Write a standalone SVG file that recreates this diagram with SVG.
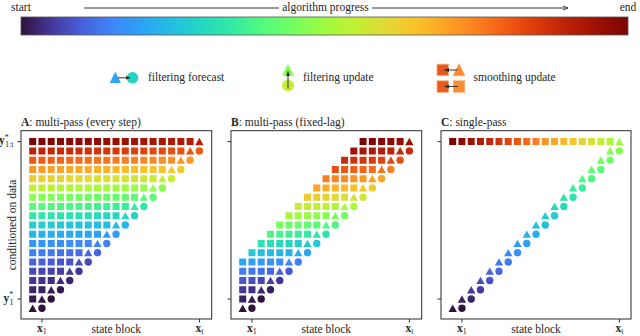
<svg xmlns="http://www.w3.org/2000/svg" xmlns:xlink="http://www.w3.org/1999/xlink" width="640" height="336" viewBox="0 0 640 336">
<style>
text{font-family:"Liberation Serif","Times New Roman",serif;font-size:11.5px;fill:#262626}
.b{font-weight:bold}
.s{font-size:8px;font-weight:normal}
.fr{fill:none;stroke:#2b2b2b;stroke-width:1}
.tk{fill:none;stroke:#2b2b2b;stroke-width:1}
.ar{fill:none;stroke:#333;stroke-width:1}
</style>
<defs>
<linearGradient id="turbo" gradientUnits="userSpaceOnUse" x1="0" y1="0" x2="1" y2="0">
<stop offset="0" stop-color="#30123b"/><stop offset="0.05" stop-color="#45379a"/><stop offset="0.1" stop-color="#4760da"/><stop offset="0.15" stop-color="#3f85f8"/><stop offset="0.2" stop-color="#2ca3f4"/><stop offset="0.25" stop-color="#24bfe0"/><stop offset="0.3" stop-color="#25d8c0"/><stop offset="0.35" stop-color="#35eba2"/><stop offset="0.4" stop-color="#55fa7c"/><stop offset="0.45" stop-color="#74fe60"/><stop offset="0.5" stop-color="#a0fb40"/><stop offset="0.55" stop-color="#c1f034"/><stop offset="0.6" stop-color="#e0da37"/><stop offset="0.65" stop-color="#f9c229"/><stop offset="0.7" stop-color="#fba326"/><stop offset="0.75" stop-color="#fb8022"/><stop offset="0.8" stop-color="#f05b12"/><stop offset="0.85" stop-color="#d93a0a"/><stop offset="0.9" stop-color="#ba2107"/><stop offset="0.95" stop-color="#9b1002"/><stop offset="1" stop-color="#7a0403"/>
</linearGradient>
<linearGradient id="cb" xlink:href="#turbo" x1="21" x2="628"/>
<linearGradient id="gA0" xlink:href="#turbo" x1="0" x2="-1750.14"/>
<linearGradient id="gA1" xlink:href="#turbo" x1="18.52" x2="-1731.62"/>
<linearGradient id="gA2" xlink:href="#turbo" x1="46.3" x2="-1703.84"/>
<linearGradient id="gA3" xlink:href="#turbo" x1="83.34" x2="-1666.8"/>
<linearGradient id="gA4" xlink:href="#turbo" x1="129.64" x2="-1620.5"/>
<linearGradient id="gA5" xlink:href="#turbo" x1="185.2" x2="-1564.94"/>
<linearGradient id="gA6" xlink:href="#turbo" x1="250.02" x2="-1500.12"/>
<linearGradient id="gA7" xlink:href="#turbo" x1="324.1" x2="-1426.04"/>
<linearGradient id="gA8" xlink:href="#turbo" x1="407.44" x2="-1342.7"/>
<linearGradient id="gA9" xlink:href="#turbo" x1="500.04" x2="-1250.1"/>
<linearGradient id="gA10" xlink:href="#turbo" x1="601.9" x2="-1148.24"/>
<linearGradient id="gA11" xlink:href="#turbo" x1="713.02" x2="-1037.12"/>
<linearGradient id="gA12" xlink:href="#turbo" x1="833.4" x2="-916.74"/>
<linearGradient id="gA13" xlink:href="#turbo" x1="963.04" x2="-787.1"/>
<linearGradient id="gA14" xlink:href="#turbo" x1="1101.94" x2="-648.2"/>
<linearGradient id="gA15" xlink:href="#turbo" x1="1250.1" x2="-500.04"/>
<linearGradient id="gA16" xlink:href="#turbo" x1="1407.52" x2="-342.62"/>
<linearGradient id="gA17" xlink:href="#turbo" x1="1574.2" x2="-175.94"/>
<linearGradient id="gA18" xlink:href="#turbo" x1="1750.14" x2="0"/>
<linearGradient id="gB0" xlink:href="#turbo" x1="0" x2="-907.48"/>
<linearGradient id="gB1" xlink:href="#turbo" x1="18.52" x2="-888.96"/>
<linearGradient id="gB2" xlink:href="#turbo" x1="46.3" x2="-861.18"/>
<linearGradient id="gB3" xlink:href="#turbo" x1="83.34" x2="-824.14"/>
<linearGradient id="gB4" xlink:href="#turbo" x1="129.64" x2="-777.84"/>
<linearGradient id="gB5" xlink:href="#turbo" x1="185.2" x2="-722.28"/>
<linearGradient id="gB6" xlink:href="#turbo" x1="240.76" x2="-666.72"/>
<linearGradient id="gB7" xlink:href="#turbo" x1="296.32" x2="-611.16"/>
<linearGradient id="gB8" xlink:href="#turbo" x1="351.88" x2="-555.6"/>
<linearGradient id="gB9" xlink:href="#turbo" x1="407.44" x2="-500.04"/>
<linearGradient id="gB10" xlink:href="#turbo" x1="463" x2="-444.48"/>
<linearGradient id="gB11" xlink:href="#turbo" x1="518.56" x2="-388.92"/>
<linearGradient id="gB12" xlink:href="#turbo" x1="574.12" x2="-333.36"/>
<linearGradient id="gB13" xlink:href="#turbo" x1="629.68" x2="-277.8"/>
<linearGradient id="gB14" xlink:href="#turbo" x1="685.24" x2="-222.24"/>
<linearGradient id="gB15" xlink:href="#turbo" x1="740.8" x2="-166.68"/>
<linearGradient id="gB16" xlink:href="#turbo" x1="796.36" x2="-111.12"/>
<linearGradient id="gB17" xlink:href="#turbo" x1="851.92" x2="-55.56"/>
<linearGradient id="gB18" xlink:href="#turbo" x1="907.48" x2="0"/>
<linearGradient id="gCt" xlink:href="#turbo" x1="333.36" x2="0"/>
<linearGradient id="gCd" xlink:href="#turbo" x1="0" y1="0" x2="0" y2="-333.36"/>
<marker id="ah" viewBox="0 0 10 10" refX="9" refY="5" markerWidth="5" markerHeight="5" markerUnits="userSpaceOnUse" orient="auto"><path d="M0,1L10,5L0,9z" fill="#333"/></marker>
<marker id="oh" viewBox="0 0 10 10" refX="9.5" refY="5" markerWidth="6" markerHeight="6" markerUnits="userSpaceOnUse" orient="auto"><path d="M1,1.5L9.5,5L1,8.5" fill="none" stroke="#333" stroke-width="1.4"/></marker>
<path id="p0" d="M0,-3.8l4.2,7.4h-8.4zm5.56,3.8a3.7,3.7 0 1 0 7.4,0a3.7,3.7 0 1 0 -7.4,0z"/>
<path id="p1" d="M-3.5,-3.5h7v7h-7zm12.76,-0.3l4.2,7.4h-8.4zm5.56,3.8a3.7,3.7 0 1 0 7.4,0a3.7,3.7 0 1 0 -7.4,0z"/>
<path id="p2" d="M-3.5,-3.5h7v7h-7zm9.26,0h7v7h-7zm12.76,-0.3l4.2,7.4h-8.4zm5.56,3.8a3.7,3.7 0 1 0 7.4,0a3.7,3.7 0 1 0 -7.4,0z"/>
<path id="p3" d="M-3.5,-3.5h7v7h-7zm9.26,0h7v7h-7zm9.26,0h7v7h-7zm12.76,-0.3l4.2,7.4h-8.4zm5.56,3.8a3.7,3.7 0 1 0 7.4,0a3.7,3.7 0 1 0 -7.4,0z"/>
<path id="p4" d="M-3.5,-3.5h7v7h-7zm9.26,0h7v7h-7zm9.26,0h7v7h-7zm9.26,0h7v7h-7zm12.76,-0.3l4.2,7.4h-8.4zm5.56,3.8a3.7,3.7 0 1 0 7.4,0a3.7,3.7 0 1 0 -7.4,0z"/>
<path id="p5" d="M-3.5,-3.5h7v7h-7zm9.26,0h7v7h-7zm9.26,0h7v7h-7zm9.26,0h7v7h-7zm9.26,0h7v7h-7zm12.76,-0.3l4.2,7.4h-8.4zm5.56,3.8a3.7,3.7 0 1 0 7.4,0a3.7,3.7 0 1 0 -7.4,0z"/>
<path id="p5n" d="M-3.5,-3.5h7v7h-7zm9.26,0h7v7h-7zm9.26,0h7v7h-7zm9.26,0h7v7h-7zm9.26,0h7v7h-7zm12.76,-0.3l4.2,7.4h-8.4z"/>
<path id="p6" d="M-3.5,-3.5h7v7h-7zm9.26,0h7v7h-7zm9.26,0h7v7h-7zm9.26,0h7v7h-7zm9.26,0h7v7h-7zm9.26,0h7v7h-7zm12.76,-0.3l4.2,7.4h-8.4zm5.56,3.8a3.7,3.7 0 1 0 7.4,0a3.7,3.7 0 1 0 -7.4,0z"/>
<path id="p7" d="M-3.5,-3.5h7v7h-7zm9.26,0h7v7h-7zm9.26,0h7v7h-7zm9.26,0h7v7h-7zm9.26,0h7v7h-7zm9.26,0h7v7h-7zm9.26,0h7v7h-7zm12.76,-0.3l4.2,7.4h-8.4zm5.56,3.8a3.7,3.7 0 1 0 7.4,0a3.7,3.7 0 1 0 -7.4,0z"/>
<path id="p8" d="M-3.5,-3.5h7v7h-7zm9.26,0h7v7h-7zm9.26,0h7v7h-7zm9.26,0h7v7h-7zm9.26,0h7v7h-7zm9.26,0h7v7h-7zm9.26,0h7v7h-7zm9.26,0h7v7h-7zm12.76,-0.3l4.2,7.4h-8.4zm5.56,3.8a3.7,3.7 0 1 0 7.4,0a3.7,3.7 0 1 0 -7.4,0z"/>
<path id="p9" d="M-3.5,-3.5h7v7h-7zm9.26,0h7v7h-7zm9.26,0h7v7h-7zm9.26,0h7v7h-7zm9.26,0h7v7h-7zm9.26,0h7v7h-7zm9.26,0h7v7h-7zm9.26,0h7v7h-7zm9.26,0h7v7h-7zm12.76,-0.3l4.2,7.4h-8.4zm5.56,3.8a3.7,3.7 0 1 0 7.4,0a3.7,3.7 0 1 0 -7.4,0z"/>
<path id="p10" d="M-3.5,-3.5h7v7h-7zm9.26,0h7v7h-7zm9.26,0h7v7h-7zm9.26,0h7v7h-7zm9.26,0h7v7h-7zm9.26,0h7v7h-7zm9.26,0h7v7h-7zm9.26,0h7v7h-7zm9.26,0h7v7h-7zm9.26,0h7v7h-7zm12.76,-0.3l4.2,7.4h-8.4zm5.56,3.8a3.7,3.7 0 1 0 7.4,0a3.7,3.7 0 1 0 -7.4,0z"/>
<path id="p11" d="M-3.5,-3.5h7v7h-7zm9.26,0h7v7h-7zm9.26,0h7v7h-7zm9.26,0h7v7h-7zm9.26,0h7v7h-7zm9.26,0h7v7h-7zm9.26,0h7v7h-7zm9.26,0h7v7h-7zm9.26,0h7v7h-7zm9.26,0h7v7h-7zm9.26,0h7v7h-7zm12.76,-0.3l4.2,7.4h-8.4zm5.56,3.8a3.7,3.7 0 1 0 7.4,0a3.7,3.7 0 1 0 -7.4,0z"/>
<path id="p12" d="M-3.5,-3.5h7v7h-7zm9.26,0h7v7h-7zm9.26,0h7v7h-7zm9.26,0h7v7h-7zm9.26,0h7v7h-7zm9.26,0h7v7h-7zm9.26,0h7v7h-7zm9.26,0h7v7h-7zm9.26,0h7v7h-7zm9.26,0h7v7h-7zm9.26,0h7v7h-7zm9.26,0h7v7h-7zm12.76,-0.3l4.2,7.4h-8.4zm5.56,3.8a3.7,3.7 0 1 0 7.4,0a3.7,3.7 0 1 0 -7.4,0z"/>
<path id="p13" d="M-3.5,-3.5h7v7h-7zm9.26,0h7v7h-7zm9.26,0h7v7h-7zm9.26,0h7v7h-7zm9.26,0h7v7h-7zm9.26,0h7v7h-7zm9.26,0h7v7h-7zm9.26,0h7v7h-7zm9.26,0h7v7h-7zm9.26,0h7v7h-7zm9.26,0h7v7h-7zm9.26,0h7v7h-7zm9.26,0h7v7h-7zm12.76,-0.3l4.2,7.4h-8.4zm5.56,3.8a3.7,3.7 0 1 0 7.4,0a3.7,3.7 0 1 0 -7.4,0z"/>
<path id="p14" d="M-3.5,-3.5h7v7h-7zm9.26,0h7v7h-7zm9.26,0h7v7h-7zm9.26,0h7v7h-7zm9.26,0h7v7h-7zm9.26,0h7v7h-7zm9.26,0h7v7h-7zm9.26,0h7v7h-7zm9.26,0h7v7h-7zm9.26,0h7v7h-7zm9.26,0h7v7h-7zm9.26,0h7v7h-7zm9.26,0h7v7h-7zm9.26,0h7v7h-7zm12.76,-0.3l4.2,7.4h-8.4zm5.56,3.8a3.7,3.7 0 1 0 7.4,0a3.7,3.7 0 1 0 -7.4,0z"/>
<path id="p15" d="M-3.5,-3.5h7v7h-7zm9.26,0h7v7h-7zm9.26,0h7v7h-7zm9.26,0h7v7h-7zm9.26,0h7v7h-7zm9.26,0h7v7h-7zm9.26,0h7v7h-7zm9.26,0h7v7h-7zm9.26,0h7v7h-7zm9.26,0h7v7h-7zm9.26,0h7v7h-7zm9.26,0h7v7h-7zm9.26,0h7v7h-7zm9.26,0h7v7h-7zm9.26,0h7v7h-7zm12.76,-0.3l4.2,7.4h-8.4zm5.56,3.8a3.7,3.7 0 1 0 7.4,0a3.7,3.7 0 1 0 -7.4,0z"/>
<path id="p16" d="M-3.5,-3.5h7v7h-7zm9.26,0h7v7h-7zm9.26,0h7v7h-7zm9.26,0h7v7h-7zm9.26,0h7v7h-7zm9.26,0h7v7h-7zm9.26,0h7v7h-7zm9.26,0h7v7h-7zm9.26,0h7v7h-7zm9.26,0h7v7h-7zm9.26,0h7v7h-7zm9.26,0h7v7h-7zm9.26,0h7v7h-7zm9.26,0h7v7h-7zm9.26,0h7v7h-7zm9.26,0h7v7h-7zm12.76,-0.3l4.2,7.4h-8.4zm5.56,3.8a3.7,3.7 0 1 0 7.4,0a3.7,3.7 0 1 0 -7.4,0z"/>
<path id="p17" d="M-3.5,-3.5h7v7h-7zm9.26,0h7v7h-7zm9.26,0h7v7h-7zm9.26,0h7v7h-7zm9.26,0h7v7h-7zm9.26,0h7v7h-7zm9.26,0h7v7h-7zm9.26,0h7v7h-7zm9.26,0h7v7h-7zm9.26,0h7v7h-7zm9.26,0h7v7h-7zm9.26,0h7v7h-7zm9.26,0h7v7h-7zm9.26,0h7v7h-7zm9.26,0h7v7h-7zm9.26,0h7v7h-7zm9.26,0h7v7h-7zm12.76,-0.3l4.2,7.4h-8.4zm5.56,3.8a3.7,3.7 0 1 0 7.4,0a3.7,3.7 0 1 0 -7.4,0z"/>
<path id="p18" d="M-3.5,-3.5h7v7h-7zm9.26,0h7v7h-7zm9.26,0h7v7h-7zm9.26,0h7v7h-7zm9.26,0h7v7h-7zm9.26,0h7v7h-7zm9.26,0h7v7h-7zm9.26,0h7v7h-7zm9.26,0h7v7h-7zm9.26,0h7v7h-7zm9.26,0h7v7h-7zm9.26,0h7v7h-7zm9.26,0h7v7h-7zm9.26,0h7v7h-7zm9.26,0h7v7h-7zm9.26,0h7v7h-7zm9.26,0h7v7h-7zm9.26,0h7v7h-7zm12.76,-0.3l4.2,7.4h-8.4z"/>
<path id="cd" d="M0,-3.8l4.2,7.4h-8.4zm5.56,3.8a3.7,3.7 0 1 0 7.4,0a3.7,3.7 0 1 0 -7.4,0zm3.7,-13.06l4.2,7.4h-8.4zm5.56,3.8a3.7,3.7 0 1 0 7.4,0a3.7,3.7 0 1 0 -7.4,0zm3.7,-13.06l4.2,7.4h-8.4zm5.56,3.8a3.7,3.7 0 1 0 7.4,0a3.7,3.7 0 1 0 -7.4,0zm3.7,-13.06l4.2,7.4h-8.4zm5.56,3.8a3.7,3.7 0 1 0 7.4,0a3.7,3.7 0 1 0 -7.4,0zm3.7,-13.06l4.2,7.4h-8.4zm5.56,3.8a3.7,3.7 0 1 0 7.4,0a3.7,3.7 0 1 0 -7.4,0zm3.7,-13.06l4.2,7.4h-8.4zm5.56,3.8a3.7,3.7 0 1 0 7.4,0a3.7,3.7 0 1 0 -7.4,0zm3.7,-13.06l4.2,7.4h-8.4zm5.56,3.8a3.7,3.7 0 1 0 7.4,0a3.7,3.7 0 1 0 -7.4,0zm3.7,-13.06l4.2,7.4h-8.4zm5.56,3.8a3.7,3.7 0 1 0 7.4,0a3.7,3.7 0 1 0 -7.4,0zm3.7,-13.06l4.2,7.4h-8.4zm5.56,3.8a3.7,3.7 0 1 0 7.4,0a3.7,3.7 0 1 0 -7.4,0zm3.7,-13.06l4.2,7.4h-8.4zm5.56,3.8a3.7,3.7 0 1 0 7.4,0a3.7,3.7 0 1 0 -7.4,0zm3.7,-13.06l4.2,7.4h-8.4zm5.56,3.8a3.7,3.7 0 1 0 7.4,0a3.7,3.7 0 1 0 -7.4,0zm3.7,-13.06l4.2,7.4h-8.4zm5.56,3.8a3.7,3.7 0 1 0 7.4,0a3.7,3.7 0 1 0 -7.4,0zm3.7,-13.06l4.2,7.4h-8.4zm5.56,3.8a3.7,3.7 0 1 0 7.4,0a3.7,3.7 0 1 0 -7.4,0zm3.7,-13.06l4.2,7.4h-8.4zm5.56,3.8a3.7,3.7 0 1 0 7.4,0a3.7,3.7 0 1 0 -7.4,0zm3.7,-13.06l4.2,7.4h-8.4zm5.56,3.8a3.7,3.7 0 1 0 7.4,0a3.7,3.7 0 1 0 -7.4,0zm3.7,-13.06l4.2,7.4h-8.4zm5.56,3.8a3.7,3.7 0 1 0 7.4,0a3.7,3.7 0 1 0 -7.4,0zm3.7,-13.06l4.2,7.4h-8.4zm5.56,3.8a3.7,3.7 0 1 0 7.4,0a3.7,3.7 0 1 0 -7.4,0zm3.7,-13.06l4.2,7.4h-8.4zm5.56,3.8a3.7,3.7 0 1 0 7.4,0a3.7,3.7 0 1 0 -7.4,0z"/>
</defs>

<g id="progress-bar">
<text x="21" y="11" text-anchor="middle">start</text>
<text x="628" y="11" text-anchor="middle">end</text>
<line class="ar" x1="84" y1="8" x2="279" y2="8"/>
<text x="325.5" y="11" text-anchor="middle">algorithm progress</text>
<line class="ar" x1="372" y1="8" x2="568" y2="8" marker-end="url(#oh)"/>
<rect x="21" y="17" width="607" height="18" fill="url(#cb)" stroke="#555" stroke-width="0.8"/>
</g>

<g id="legend-forecast">
<polygon points="115.3,71.8 121,83 109.6,83" fill="#2ea6f5"/>
<circle cx="132.5" cy="77.8" r="5.8" fill="#22d3c6"/>
<line class="ar" x1="118" y1="77.8" x2="130" y2="77.8" marker-end="url(#ah)"/>
<text x="148" y="81.3">filtering forecast</text>
</g>
<g id="legend-update">
<polygon points="288,64 293.8,75.5 282.2,75.5" fill="#86fb52"/>
<circle cx="288" cy="85.6" r="6" fill="#c6ec3c"/>
<line class="ar" x1="288" y1="88.5" x2="288" y2="71.5" marker-end="url(#ah)"/>
<text x="303" y="81.3">filtering update</text>
</g>
<g id="legend-smooth" stroke="#fbb080" stroke-width="0.8">
<rect x="437" y="64.2" width="11.5" height="11.5" fill="#e8581a"/>
<polygon points="459,63.6 465,75.8 453,75.8" fill="#f9892c"/>
<rect x="437" y="80.8" width="11.5" height="11.5" fill="#ea5c1c"/>
<rect x="453.3" y="80.8" width="11.5" height="11.5" fill="#fa8e34"/>
<line class="ar" x1="457.5" y1="70" x2="444.5" y2="70" marker-end="url(#ah)"/>
<line class="ar" x1="458" y1="86.5" x2="444.5" y2="86.5" marker-end="url(#ah)"/>
<text x="473.5" y="81.3" stroke="none">smoothing update</text>
</g>

<g id="panel-A">
<text x="21" y="126.3"><tspan class="b">A</tspan>: multi-pass (every step)</text>
<g id="cells-A">
<use xlink:href="#p0" transform="translate(32.7,308.3)" fill="url(#gA0)"/>
<use xlink:href="#p1" transform="translate(32.7,299.04)" fill="url(#gA1)"/>
<use xlink:href="#p2" transform="translate(32.7,289.78)" fill="url(#gA2)"/>
<use xlink:href="#p3" transform="translate(32.7,280.52)" fill="url(#gA3)"/>
<use xlink:href="#p4" transform="translate(32.7,271.26)" fill="url(#gA4)"/>
<use xlink:href="#p5" transform="translate(32.7,262)" fill="url(#gA5)"/>
<use xlink:href="#p6" transform="translate(32.7,252.74)" fill="url(#gA6)"/>
<use xlink:href="#p7" transform="translate(32.7,243.48)" fill="url(#gA7)"/>
<use xlink:href="#p8" transform="translate(32.7,234.22)" fill="url(#gA8)"/>
<use xlink:href="#p9" transform="translate(32.7,224.96)" fill="url(#gA9)"/>
<use xlink:href="#p10" transform="translate(32.7,215.7)" fill="url(#gA10)"/>
<use xlink:href="#p11" transform="translate(32.7,206.44)" fill="url(#gA11)"/>
<use xlink:href="#p12" transform="translate(32.7,197.18)" fill="url(#gA12)"/>
<use xlink:href="#p13" transform="translate(32.7,187.92)" fill="url(#gA13)"/>
<use xlink:href="#p14" transform="translate(32.7,178.66)" fill="url(#gA14)"/>
<use xlink:href="#p15" transform="translate(32.7,169.4)" fill="url(#gA15)"/>
<use xlink:href="#p16" transform="translate(32.7,160.14)" fill="url(#gA16)"/>
<use xlink:href="#p17" transform="translate(32.7,150.88)" fill="url(#gA17)"/>
<use xlink:href="#p18" transform="translate(32.7,141.62)" fill="url(#gA18)"/>
</g>
<rect class="fr" x="21" y="130.7" width="190.7" height="188.3"/>
<path class="tk" d="M17.5,141.62H21M17.5,299.04H21M41.96,319V322.5M199.38,319V322.5"/>
<text x="13.5" y="144.2" text-anchor="end"><tspan class="b">y</tspan><tspan class="s" dy="-4.5">*</tspan><tspan class="s" dx="-3.8" dy="7.5">1:t</tspan></text>
<text x="13.5" y="301.6" text-anchor="end"><tspan class="b">y</tspan><tspan class="s" dy="-4.5">*</tspan><tspan class="s" dx="-3.8" dy="7.5">1</tspan></text>
<text transform="translate(16,225) rotate(-90)" text-anchor="middle">conditioned on data</text>
<text x="41.96" y="332.3" text-anchor="middle"><tspan class="b">x</tspan><tspan class="s" dy="1.6">1</tspan></text>
<text x="199.38" y="332.3" text-anchor="middle"><tspan class="b">x</tspan><tspan class="s" dy="1.6">t</tspan></text>
<text x="116.35" y="332.8" text-anchor="middle">state block</text>
</g>

<g id="panel-B">
<text x="231" y="126.3"><tspan class="b">B</tspan>: multi-pass (fixed-lag)</text>
<g id="cells-B">
<use xlink:href="#p0" transform="translate(242.7,308.3)" fill="url(#gB0)"/>
<use xlink:href="#p1" transform="translate(242.7,299.04)" fill="url(#gB1)"/>
<use xlink:href="#p2" transform="translate(242.7,289.78)" fill="url(#gB2)"/>
<use xlink:href="#p3" transform="translate(242.7,280.52)" fill="url(#gB3)"/>
<use xlink:href="#p4" transform="translate(242.7,271.26)" fill="url(#gB4)"/>
<use xlink:href="#p5" transform="translate(242.7,262)" fill="url(#gB5)"/>
<use xlink:href="#p5" transform="translate(251.96,252.74)" fill="url(#gB6)"/>
<use xlink:href="#p5" transform="translate(261.22,243.48)" fill="url(#gB7)"/>
<use xlink:href="#p5" transform="translate(270.48,234.22)" fill="url(#gB8)"/>
<use xlink:href="#p5" transform="translate(279.74,224.96)" fill="url(#gB9)"/>
<use xlink:href="#p5" transform="translate(289,215.7)" fill="url(#gB10)"/>
<use xlink:href="#p5" transform="translate(298.26,206.44)" fill="url(#gB11)"/>
<use xlink:href="#p5" transform="translate(307.52,197.18)" fill="url(#gB12)"/>
<use xlink:href="#p5" transform="translate(316.78,187.92)" fill="url(#gB13)"/>
<use xlink:href="#p5" transform="translate(326.04,178.66)" fill="url(#gB14)"/>
<use xlink:href="#p5" transform="translate(335.3,169.4)" fill="url(#gB15)"/>
<use xlink:href="#p5" transform="translate(344.56,160.14)" fill="url(#gB16)"/>
<use xlink:href="#p5" transform="translate(353.82,150.88)" fill="url(#gB17)"/>
<use xlink:href="#p5n" transform="translate(363.08,141.62)" fill="url(#gB18)"/>
</g>
<rect class="fr" x="231" y="130.7" width="190.7" height="188.3"/>
<path class="tk" d="M227.5,141.62H231M227.5,299.04H231M251.96,319V322.5M409.38,319V322.5"/>
<text x="251.96" y="332.3" text-anchor="middle"><tspan class="b">x</tspan><tspan class="s" dy="1.6">1</tspan></text>
<text x="409.38" y="332.3" text-anchor="middle"><tspan class="b">x</tspan><tspan class="s" dy="1.6">t</tspan></text>
<text x="326.35" y="332.8" text-anchor="middle">state block</text>
</g>

<g id="panel-C">
<text x="441" y="126.3"><tspan class="b">C</tspan>: single-pass</text>
<g id="cells-C">
<use xlink:href="#cd" transform="translate(452.7,308.3)" fill="url(#gCd)"/>
<use xlink:href="#p18" transform="translate(452.7,141.62)" fill="url(#gCt)"/>
</g>
<rect class="fr" x="441" y="130.7" width="190" height="188.3"/>
<path class="tk" d="M437.5,141.62H441M437.5,299.04H441M461.96,319V322.5M619.38,319V322.5"/>
<text x="461.96" y="332.3" text-anchor="middle"><tspan class="b">x</tspan><tspan class="s" dy="1.6">1</tspan></text>
<text x="619.38" y="332.3" text-anchor="middle"><tspan class="b">x</tspan><tspan class="s" dy="1.6">t</tspan></text>
<text x="536" y="332.8" text-anchor="middle">state block</text>
</g>
</svg>
